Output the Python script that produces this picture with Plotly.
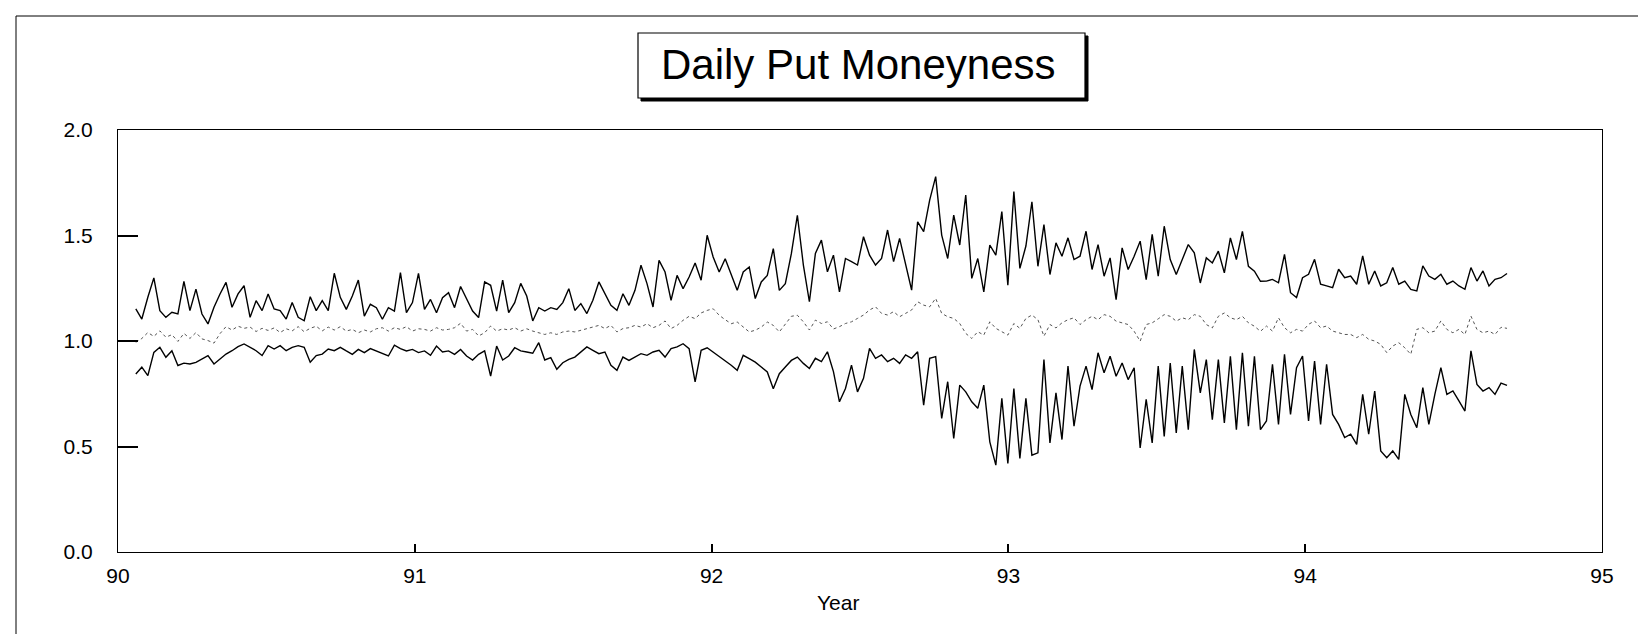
import numpy as np
import plotly.graph_objects as go

# ---- data (one value roughly every 0.02 year) ----
START_YEAR = 90.06
END_YEAR = 94.68

upper = [
    1.152, 1.104, 1.207, 1.299, 1.144, 1.112, 1.136, 1.128, 1.283, 1.144, 1.246, 1.128, 1.081, 1.160, 1.223,
    1.278, 1.160, 1.223, 1.262, 1.112, 1.191, 1.144, 1.223, 1.152, 1.144, 1.104, 1.183, 1.112, 1.096, 1.210,
    1.144, 1.191, 1.144, 1.321, 1.207,
    1.150, 1.213, 1.289, 1.118, 1.174, 1.158, 1.103, 1.158, 1.142, 1.324, 1.134, 1.182, 1.321, 1.150, 1.197,
    1.134, 1.205, 1.229, 1.158, 1.258, 1.197, 1.142, 1.111, 1.280, 1.264, 1.142, 1.289, 1.134, 1.182, 1.273,
    1.213, 1.095, 1.158, 1.142, 1.158, 1.150, 1.182, 1.248,
    1.145, 1.177, 1.130, 1.193, 1.280, 1.224, 1.169, 1.145, 1.224, 1.169, 1.240, 1.359, 1.272, 1.161, 1.382,
    1.327, 1.193, 1.311, 1.248, 1.303, 1.370, 1.288, 1.501, 1.398, 1.327, 1.390, 1.319, 1.240, 1.327, 1.351,
    1.201, 1.280, 1.311, 1.438, 1.240, 1.272, 1.414, 1.596,
    1.360, 1.186, 1.415, 1.478, 1.328, 1.407, 1.233, 1.391, 1.376, 1.360, 1.494, 1.407, 1.360, 1.391, 1.526,
    1.376, 1.486, 1.360, 1.241, 1.565, 1.518, 1.668, 1.779, 1.502, 1.391, 1.597, 1.455, 1.692, 1.297, 1.391,
    1.233, 1.455, 1.407, 1.613, 1.265, 1.708, 1.344, 1.450, 1.660,
    1.354, 1.552, 1.315, 1.465, 1.402, 1.489, 1.386, 1.402, 1.520, 1.339, 1.457, 1.307, 1.394, 1.196, 1.441,
    1.339, 1.402, 1.473, 1.291, 1.505, 1.307, 1.544, 1.386, 1.315, 1.386, 1.457, 1.418, 1.275, 1.394, 1.370,
    1.426, 1.323, 1.489, 1.386, 1.520, 1.354, 1.331, 1.283,
    1.284, 1.292, 1.276, 1.411, 1.229, 1.206, 1.300, 1.316, 1.387, 1.269, 1.261, 1.253, 1.340, 1.300, 1.308,
    1.269, 1.403, 1.269, 1.332, 1.261, 1.276, 1.348, 1.269, 1.284, 1.245, 1.237, 1.356, 1.308, 1.292, 1.316,
    1.269, 1.284, 1.261, 1.245, 1.348, 1.284, 1.332, 1.261, 1.292,
    1.300, 1.320,
]

middle = [
    0.994, 1.012, 1.040, 1.022, 1.048, 1.018, 1.030, 0.998, 1.036, 1.012, 1.040, 1.010, 1.002, 0.990, 1.035,
    1.068, 1.052, 1.070, 1.060, 1.066, 1.045, 1.060, 1.050, 1.062, 1.040, 1.058, 1.048, 1.068, 1.044, 1.060,
    1.070, 1.048, 1.066, 1.052, 1.068,
    1.047, 1.055, 1.039, 1.052, 1.043, 1.058, 1.063, 1.047, 1.063, 1.055, 1.068, 1.047, 1.058, 1.055, 1.047,
    1.063, 1.052, 1.055, 1.063, 1.084, 1.047, 1.055, 1.024, 1.039, 1.071, 1.047, 1.058, 1.052, 1.063, 1.047,
    1.058, 1.047, 1.039, 1.031, 1.039, 1.031, 1.043, 1.047,
    1.043, 1.051, 1.059, 1.066, 1.074, 1.059, 1.074, 1.043, 1.059, 1.063, 1.074, 1.066, 1.082, 1.063, 1.074,
    1.095, 1.059, 1.074, 1.098, 1.117, 1.106, 1.133, 1.145, 1.153, 1.122, 1.101, 1.082, 1.090, 1.066, 1.043,
    1.051, 1.066, 1.090, 1.074, 1.043, 1.082, 1.117, 1.122,
    1.091, 1.052, 1.099, 1.083, 1.091, 1.057, 1.068, 1.083, 1.091, 1.107, 1.123, 1.147, 1.162, 1.131, 1.123,
    1.139, 1.115, 1.131, 1.147, 1.186, 1.170, 1.162, 1.202, 1.131, 1.115, 1.107, 1.083, 1.036, 1.012, 1.044,
    1.028, 1.091, 1.060, 1.044, 1.028, 1.083, 1.060, 1.107, 1.123,
    1.101, 1.023, 1.078, 1.062, 1.086, 1.101, 1.110, 1.078, 1.101, 1.117, 1.101, 1.125, 1.117, 1.094, 1.086,
    1.078, 1.046, 0.999, 1.078, 1.086, 1.105, 1.125, 1.117, 1.094, 1.110, 1.101, 1.125, 1.117, 1.078, 1.062,
    1.117, 1.133, 1.110, 1.101, 1.117, 1.086, 1.070, 1.046,
    1.071, 1.047, 1.110, 1.063, 1.039, 1.055, 1.047, 1.079, 1.095, 1.063, 1.071, 1.047, 1.039, 1.031, 1.031,
    1.016, 1.031, 1.008, 1.000, 0.984, 0.945, 0.976, 0.992, 0.968, 0.937, 1.055, 1.063, 1.039, 1.047, 1.095,
    1.055, 1.039, 1.055, 1.031, 1.118, 1.055, 1.039, 1.047, 1.031,
    1.065, 1.060,
]

lower = [
    0.844, 0.876, 0.836, 0.946, 0.970, 0.923, 0.954, 0.884, 0.895, 0.891, 0.899, 0.915, 0.931, 0.891, 0.915,
    0.938, 0.954, 0.973, 0.986, 0.970, 0.954, 0.931, 0.978, 0.962, 0.978, 0.954, 0.970, 0.978, 0.970, 0.899,
    0.931, 0.938, 0.962, 0.954, 0.970,
    0.953, 0.937, 0.960, 0.945, 0.964, 0.953, 0.942, 0.929, 0.980, 0.964, 0.953, 0.960, 0.945, 0.953, 0.932,
    0.976, 0.948, 0.953, 0.937, 0.960, 0.929, 0.910, 0.937, 0.953, 0.834, 0.976, 0.910, 0.929, 0.968, 0.953,
    0.948, 0.942, 0.992, 0.910, 0.921, 0.866, 0.897, 0.913,
    0.924, 0.948, 0.972, 0.956, 0.940, 0.948, 0.885, 0.861, 0.924, 0.908, 0.924, 0.940, 0.932, 0.948, 0.956,
    0.924, 0.964, 0.972, 0.987, 0.964, 0.806, 0.956, 0.968, 0.948, 0.924, 0.905, 0.885, 0.861, 0.932, 0.916,
    0.900, 0.877, 0.853, 0.774, 0.845, 0.877, 0.908, 0.924,
    0.894, 0.870, 0.918, 0.902, 0.949, 0.855, 0.712, 0.775, 0.886, 0.759, 0.823, 0.965, 0.918, 0.934, 0.902,
    0.918, 0.894, 0.934, 0.918, 0.949, 0.696, 0.918, 0.926, 0.633, 0.807, 0.538, 0.791, 0.759, 0.712, 0.681,
    0.791, 0.522, 0.412, 0.728, 0.420, 0.775, 0.444, 0.728, 0.459,
    0.470, 0.912, 0.517, 0.754, 0.533, 0.881, 0.596, 0.786, 0.881, 0.770, 0.944, 0.849, 0.928, 0.833, 0.896,
    0.817, 0.873, 0.493, 0.723, 0.517, 0.881, 0.548, 0.896, 0.564, 0.881, 0.580, 0.960, 0.754, 0.912, 0.627,
    0.912, 0.612, 0.928, 0.580, 0.944, 0.596, 0.928, 0.580,
    0.621, 0.890, 0.605, 0.937, 0.652, 0.874, 0.929, 0.621, 0.905, 0.605, 0.890, 0.652, 0.605, 0.542, 0.558,
    0.510, 0.747, 0.558, 0.763, 0.479, 0.447, 0.479, 0.439, 0.747, 0.652, 0.589, 0.779, 0.605, 0.747, 0.874,
    0.747, 0.763, 0.716, 0.668, 0.953, 0.794, 0.763, 0.779, 0.747,
    0.800, 0.790,
]

x_ticks = [90, 91, 92, 93, 94, 95]
y_ticks = [0.0, 0.5, 1.0, 1.5, 2.0]
title_text = "Daily Put Moneyness"
x_title = "Year"

# observation times (evenly spaced trading-time index between first and last observation)
years = np.linspace(START_YEAR, END_YEAR, len(upper))

FONT = "Liberation Sans, Arial, sans-serif"

fig = go.Figure()
fig.add_trace(go.Scatter(x=years, y=middle, mode="lines",
                         line=dict(color="#555555", width=1, dash="dot"), showlegend=False))
fig.add_trace(go.Scatter(x=years, y=upper, mode="lines",
                         line=dict(color="black", width=1.4), showlegend=False))
fig.add_trace(go.Scatter(x=years, y=lower, mode="lines",
                         line=dict(color="black", width=1.4), showlegend=False))

W, H = 1646, 634
L, R, T, B = 110, 52, 122, 90
pw, ph = W - L - R, H - T - B


def px(xp):
    return (xp - L) / pw


def py(yp):
    return (H - B - yp) / ph


shapes = [
    # outer page frame
    dict(type="rect", xref="paper", yref="paper", x0=px(8), x1=px(1638), y0=py(630), y1=py(8),
         line=dict(color="black", width=1), layer="below"),
    # title box shadow
    dict(type="rect", xref="paper", yref="paper", x0=px(633), x1=px(1080), y0=py(93), y1=py(28),
         line=dict(color="black", width=1), fillcolor="black", layer="above"),
    # title box
    dict(type="rect", xref="paper", yref="paper", x0=px(630), x1=px(1077), y0=py(90), y1=py(25),
         line=dict(color="black", width=1.2), fillcolor="white", layer="above"),
]

annotations = [
    dict(text=title_text, xref="paper", yref="paper", x=px(850), y=py(57), showarrow=False,
         font=dict(family=FONT, size=42, color="black"), xanchor="center", yanchor="middle"),
    dict(text=x_title, xref="paper", yref="paper", x=px(830), y=py(594), showarrow=False,
         font=dict(family=FONT, size=21, color="black"), xanchor="center", yanchor="middle"),
]

fig.update_layout(
    width=W, height=H,
    margin=dict(l=L, r=R, t=T, b=B),
    paper_bgcolor="white", plot_bgcolor="white",
    shapes=shapes, annotations=annotations,
    font=dict(family=FONT, size=21, color="black"),
    xaxis=dict(range=[90, 95], tickvals=x_ticks, ticktext=[str(v) for v in x_ticks],
               ticks="inside", ticklen=8, tickcolor="black", tickwidth=1.5,
               showline=True, linecolor="black", linewidth=1.2, mirror=True,
               showgrid=False, zeroline=False, ticklabelstandoff=5),
    yaxis=dict(range=[0, 2], tickvals=y_ticks, ticktext=[f"{v:.1f}" for v in y_ticks],
               ticks="inside", ticklen=20, tickcolor="black", tickwidth=1.5,
               showline=True, linecolor="black", linewidth=1.2, mirror=True,
               showgrid=False, zeroline=False, ticklabelstandoff=20),
)

fig.write_html("out.html")
